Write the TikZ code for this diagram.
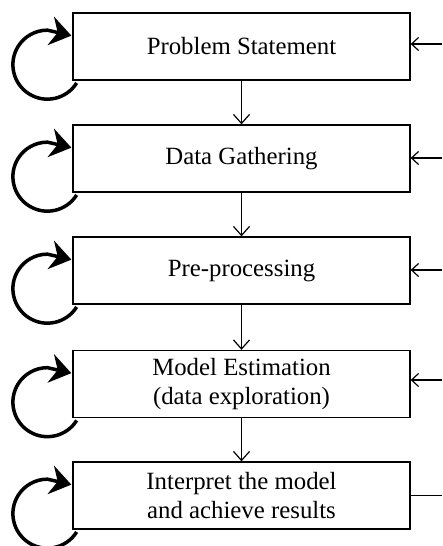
\documentclass[tikz,border=0pt]{standalone}
\usepackage{fontspec}
\setmainfont{Liberation Serif}
\usetikzlibrary{arrows.meta}
\begin{document}
\begin{tikzpicture}[x=1pt,y=1pt,
  box/.style={draw, line width=1.3pt, minimum width=337pt, minimum height=67pt, align=center, inner sep=0pt, font=\fontsize{24.8}{29}\selectfont},
  flow/.style={line width=1.2pt, -{Straight Barb[length=9pt,width=16pt]}},
  back/.style={line width=1.2pt, -{Straight Barb[length=7pt,width=13pt]}},
  plain/.style={line width=1.2pt},
  loopy/.style={line width=3.5pt, -{Stealth[length=21pt,width=29pt,inset=7pt]}}]
\useasboundingbox (0,0) rectangle (442,546);
\node[box] (b1) at (241.5,499.5) {Problem Statement};
\node[box] (b2) at (241.5,387.5) {Data Gathering};
\node[box] (b3) at (241.5,275.5) {Pre-processing};
\node[box] (b4) at (241.5,162) {Model Estimation\\(data exploration)};
\node[box] (b5) at (241.5,50.5) {Interpret the model\\and achieve results};
\draw[flow] (b1.south) -- (b2.north);
\draw[flow] (b2.south) -- (b3.north);
\draw[flow] (b3.south) -- (b4.north);
\draw[flow] (b4.south) -- (b5.north);
\coordinate (r1) at (442,502);
\coordinate (r2) at (442,388);
\coordinate (r3) at (442,276);
\coordinate (r4) at (442,166);
\coordinate (r5) at (442,50.5);
\draw[back] (r1) -- (r1 -| b1.east);
\draw[back] (r2) -- (r2 -| b2.east);
\draw[back] (r3) -- (r3 -| b3.east);
\draw[back] (r4) -- (r4 -| b4.east);
\draw[plain] (b5.east) -- (r5);
\foreach \b in {b1,b2,b3,b4,b5}{
  \coordinate (\b-s) at ([shift={(4.3,-2.3)}]\b.south west);
  \coordinate (\b-t) at ([shift={(-1,45)}]\b.south west);
  \draw[loopy] (\b-s) arc[start angle=-32, end angle=-270, radius=34.5pt] -- (\b-t);
}
\end{tikzpicture}
\end{document}
